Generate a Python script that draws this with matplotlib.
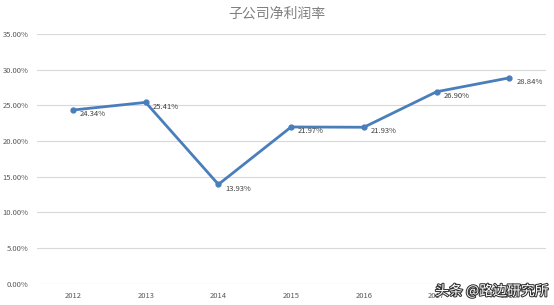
import matplotlib.pyplot as plt
import matplotlib.patheffects as pe
from matplotlib.ticker import PercentFormatter

plt.rcParams['font.family'] = ['Noto Sans CJK SC', 'DejaVu Sans']

# data
years = ['2012', '2013', '2014', '2015', '2016', '2017', '2018']
net_margin = [24.34, 25.41, 13.93, 21.97, 21.93, 26.90, 28.84]

fig = plt.figure(figsize=(5.54, 3.05), dpi=100)
ax = fig.add_axes([0.066, 0.069, 0.919, 0.82])

x = range(len(years))
ax.plot(x, net_margin, color='#4a7ebb', linewidth=2, marker='o', markersize=3.5)

for xi, v in zip(x, net_margin):
    ax.annotate(f'{v:.2f}%', (xi, v), xytext=(5, -3), textcoords='offset points',
                fontsize=5.5, color='#404040', va='center', ha='left')

ax.set_xlim(-0.5, len(years) - 0.5)
ax.set_ylim(0, 35)
ax.set_yticks(range(0, 36, 5))
ax.yaxis.set_major_formatter(PercentFormatter(decimals=2))
ax.set_xticks(list(x))
ax.set_xticklabels(years)
ax.tick_params(length=0, labelsize=5.5, labelcolor='#595959', pad=6)
ax.grid(axis='y', color='#d9d9d9', linewidth=0.8)
ax.set_axisbelow(True)
for s in ax.spines.values():
    s.set_visible(False)

fig.text(0.5, 0.955, '子公司净利润率', ha='center', va='center', fontsize=10, color='#808080')

# watermark
fig.text(0.99, 0.045, '头条 @路边研究所', ha='right', va='center', fontsize=10, color='white',
         path_effects=[pe.withStroke(linewidth=1.5, foreground='#333333')])

fig.savefig('out.png', dpi=100)
